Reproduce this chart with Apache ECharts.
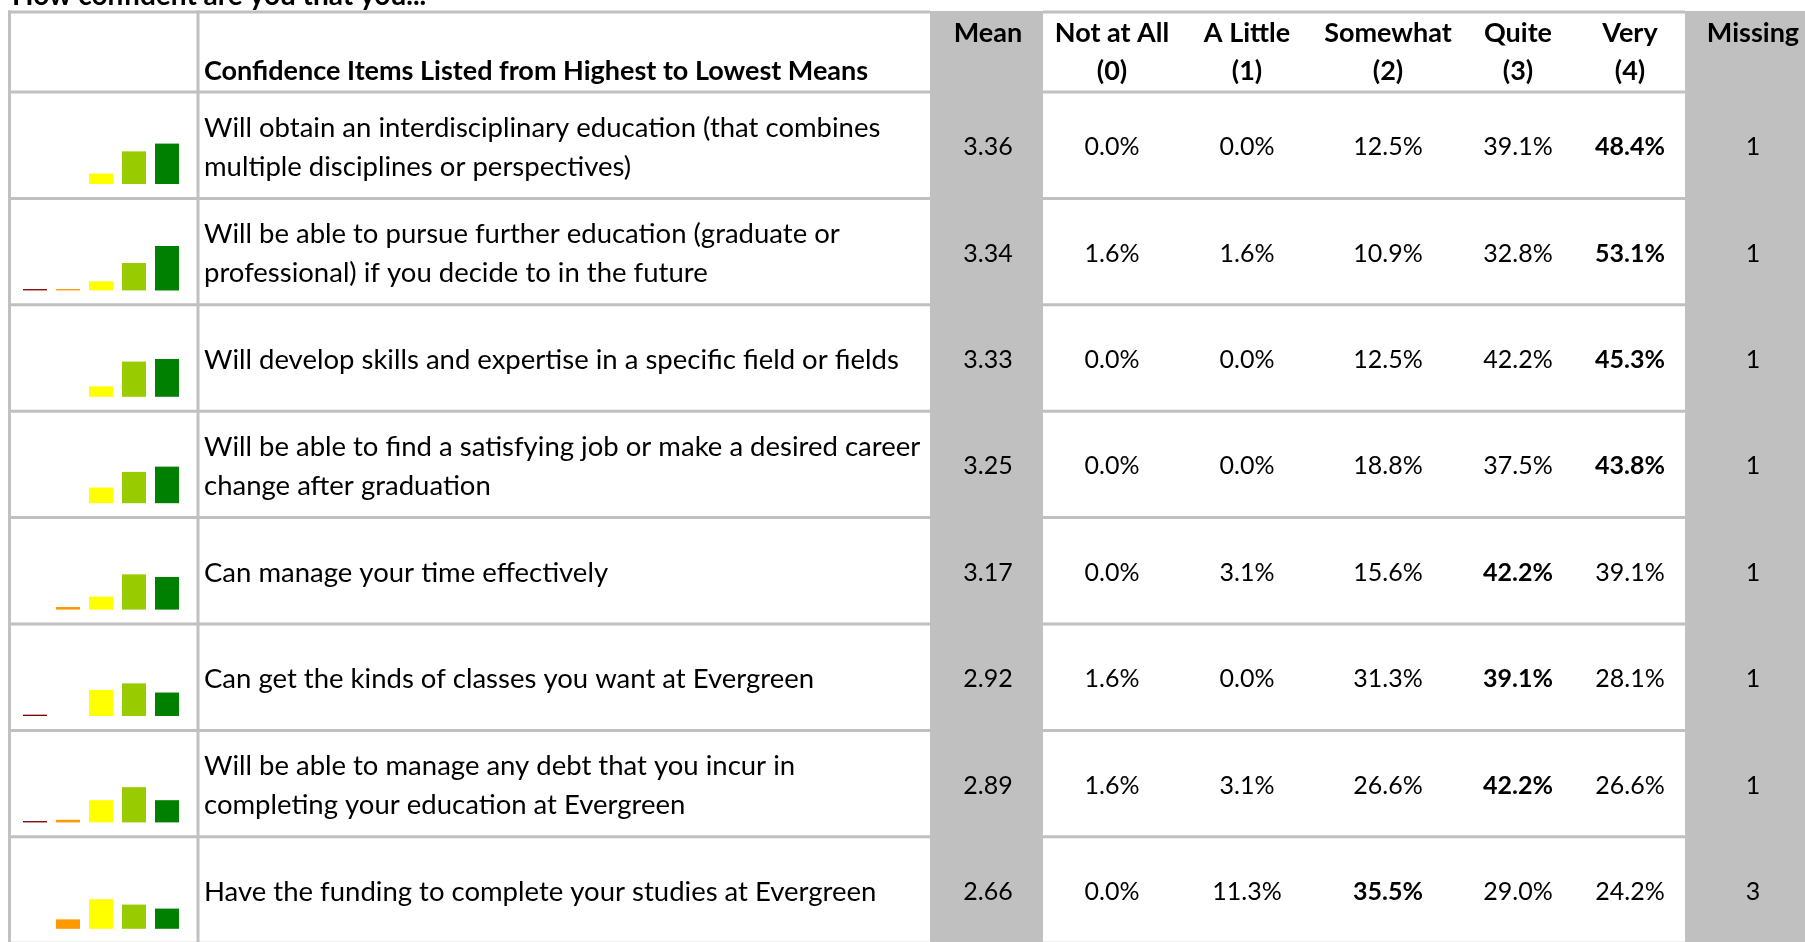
<!DOCTYPE html>
<html>
<head>
<meta charset="utf-8">
<title>Confidence Items</title>
<script src="https://cdn.jsdelivr.net/npm/echarts@6/dist/echarts.min.js"></script>
<style>
    html, body { margin: 0; padding: 0; background: #fff; }
    #chart { width: 1805px; height: 942px; }
</style>
</head>
<body>
<div id="chart"></div>
<script>
var items = [
    'Will obtain an interdisciplinary education (that combines\nmultiple disciplines or perspectives)',
    'Will be able to pursue further education (graduate or\nprofessional) if you decide to in the future',
    'Will develop skills and expertise in a specific field or fields',
    'Will be able to find a satisfying job or make a desired career\nchange after graduation',
    'Can manage your time effectively',
    'Can get the kinds of classes you want at Evergreen',
    'Will be able to manage any debt that you incur in\ncompleting your education at Evergreen',
    'Have the funding to complete your studies at Evergreen'
];
var means    = [3.36, 3.34, 3.33, 3.25, 3.17, 2.92, 2.89, 2.66];
var notAtAll = [0.0, 1.6, 0.0, 0.0, 0.0, 1.6, 1.6, 0.0];
var aLittle  = [0.0, 1.6, 0.0, 0.0, 3.1, 0.0, 3.1, 11.3];
var somewhat = [12.5, 10.9, 12.5, 18.8, 15.6, 31.3, 26.6, 35.5];
var quite    = [39.1, 32.8, 42.2, 37.5, 42.2, 39.1, 42.2, 29.0];
var very     = [48.4, 53.1, 45.3, 43.8, 39.1, 28.1, 26.6, 24.2];
var missing  = [1, 1, 1, 1, 1, 1, 1, 3];
var levels = ['Not at All', 'A Little', 'Somewhat', 'Quite', 'Very'];
var levelCodes = ['(0)', '(1)', '(2)', '(3)', '(4)'];

var levelColors = ['#800000', '#ff9900', '#ffff00', '#99cc00', '#008000'];
var FONT = 'Lato, "Open Sans", sans-serif';
var LINE = '#c0c0c0';

var chart = echarts.init(document.getElementById('chart'));

// layout of the table
var headTop = 12, headBottom = 92, rowH = 106.4;
var xLeft = 9.5, xSpark = 198, xMean0 = 930, xMean1 = 1043, xMiss0 = 1685, xRight = 1805;
var colX = [1112, 1247, 1388, 1518, 1630];
var meanX = 988, missX = 1753;
var dy = 2; // small nudge so Lato sits like the original text

var graphic = [];
// grey columns
graphic.push({ type: 'rect', z: 0, shape: { x: xMean0, y: 11, width: xMean1 - xMean0, height: 942 }, style: { fill: '#c0c0c0' } });
graphic.push({ type: 'rect', z: 0, shape: { x: xMiss0, y: 11, width: xRight - xMiss0, height: 942 }, style: { fill: '#c0c0c0' } });

function hLine(y) {
    graphic.push({ type: 'line', z: 1, shape: { x1: xLeft - 1.5, y1: y, x2: xMean0, y2: y }, style: { stroke: LINE, lineWidth: 3 } });
    graphic.push({ type: 'line', z: 1, shape: { x1: xMean1, y1: y, x2: xMiss0, y2: y }, style: { stroke: LINE, lineWidth: 3 } });
}
function vLine(x) {
    graphic.push({ type: 'line', z: 1, shape: { x1: x, y1: headTop - 1.5, x2: x, y2: 942 }, style: { stroke: LINE, lineWidth: 3 } });
}
function txt(s, x, y, align, bold, size, extra) {
    var st = {
        text: s, x: x, y: y + dy, fill: '#000',
        font: (bold ? 'bold ' : '') + size + 'px ' + FONT,
        textAlign: align, textVerticalAlign: 'middle'
    };
    if (extra) { for (var k in extra) st[k] = extra[k]; }
    graphic.push({ type: 'text', z: 3, style: st });
}

hLine(headTop);
hLine(headBottom);
for (var r = 0; r < items.length; r++) hLine(headBottom + rowH * (r + 1));
vLine(xLeft);
vLine(xSpark);

// title (mostly above the visible area)
graphic.push({ type: 'text', z: 3, style: { text: 'How confident are you that you...', x: 12, y: 10, fill: '#000', font: 'bold 28px ' + FONT, textAlign: 'left', textVerticalAlign: 'bottom' } });

// header
txt('Confidence Items Listed from Highest to Lowest Means', 204, 69, 'left', true, 27);
txt('Mean', meanX, 31, 'center', true, 27);
for (var c = 0; c < levels.length; c++) {
    txt(levels[c], colX[c], 31, 'center', true, 27);
    txt(levelCodes[c], colX[c], 69, 'center', true, 27);
}
txt('Missing', missX, 31, 'center', true, 27);

var grids = [], xAxes = [], yAxes = [], series = [];
for (var i = 0; i < items.length; i++) {
    var rowTop = headBottom + rowH * i;
    var mid = rowTop + rowH / 2;
    var vals = [notAtAll[i], aLittle[i], somewhat[i], quite[i], very[i]];
    var maxV = Math.max.apply(null, vals);

    txt(items[i], 204, mid, 'left', false, 27.5, { lineHeight: 39 });
    txt(means[i].toFixed(2), meanX, mid, 'center', false, 25);
    for (var c2 = 0; c2 < vals.length; c2++) {
        txt(vals[c2].toFixed(1) + '%', colX[c2], mid, 'center', vals[c2] === maxV, 25);
    }
    txt(String(missing[i]), missX, mid, 'center', false, 25);

    // little bar chart in the first column
    var base = rowTop + 92;
    grids.push({ left: 18.5, width: 165, top: base - 83.5, height: 83.5 });
    xAxes.push({ type: 'category', gridIndex: i, data: levels, show: false });
    yAxes.push({ type: 'value', gridIndex: i, min: 0, max: 100, show: false });
    series.push({
        type: 'bar',
        xAxisIndex: i,
        yAxisIndex: i,
        barWidth: 24,
        silent: true,
        data: vals,
        itemStyle: {
            color: function (p) { return levelColors[p.dataIndex]; }
        }
    });
}

var option = {
    animation: false,
    backgroundColor: '#fff',
    grid: grids,
    xAxis: xAxes,
    yAxis: yAxes,
    series: series,
    graphic: graphic
};

chart.setOption(option);
</script>
</body>
</html>
